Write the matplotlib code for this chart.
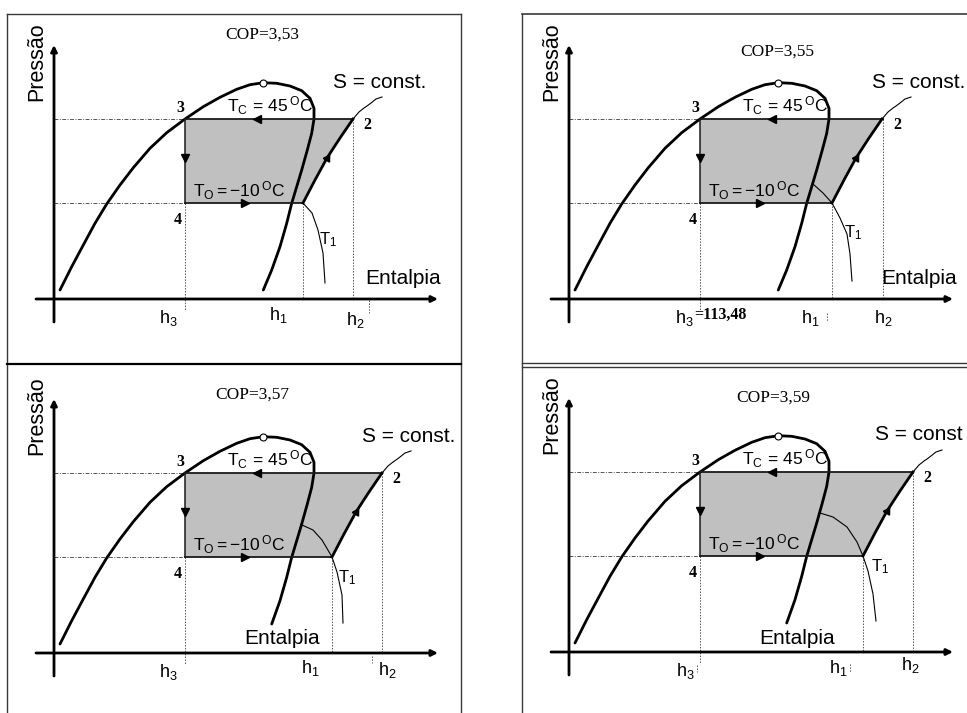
import numpy as np
import matplotlib
matplotlib.use("Agg")
import matplotlib.pyplot as plt

plt.rcParams["font.family"] = ["Liberation Sans", "DejaVu Sans"]
plt.rcParams["mathtext.fontset"] = "custom"
plt.rcParams["mathtext.rm"] = "Liberation Sans"
plt.rcParams["mathtext.it"] = "Liberation Sans:italic"

# ---------------------------------------------------------------------
# Diagram data (enthalpy h, pressure p in diagram units; origin = axis crossing)
# ---------------------------------------------------------------------
LIQ_H = [6, 17.7, 29.3, 41, 52.7, 66, 79.3, 96, 112.7, 131, 149.3, 166, 182.7, 196, 209.3]
LIQ_P = [9, 32.3, 54, 75.7, 95, 114, 131.3, 150.7, 166.3, 180, 192.3, 201.7, 209.7, 214.3, 216.3]
VAP_H = [209.3, 222.7, 236, 247.7, 256, 260, 260, 257.7, 253.3, 247.7, 242.7, 237.7,
         232.7, 226, 217.7, 209.3]
VAP_P = [216.3, 215.7, 213, 208.3, 200.7, 190.7, 180, 165.7, 149, 129, 112.3, 95.7,
         75.7, 52.3, 29, 9]
CRIT = (209.3, 216.3)

P_COND = 180       # Tc = 45 C
P_EVAP = 96        # To = -10 C
H3 = 131           # h3 = h4
H1 = [249, 263, 278, 294]
H2 = [299, 314, 328, 344]
COP = ["3,53", "3,55", "3,57", "3,59"]
VAP_PMIN = [9, 9, 29, 29]

# isentrope 1 -> 2 (relative to state 1) and its thin continuation
ISEN_DH = [0, 12, 24, 37, 50]
ISEN_DP = [0, 23, 45, 65, 84]
ISEN_EXT_DH = [50, 56, 61, 64, 68, 73, 79]
ISEN_EXT_DP = [84, 91, 95, 97, 100, 104, 106]

# T1 isotherm per panel
T1_H = [[249, 258, 264, 269, 271],
        [244, 254, 263, 271, 278, 281, 283],
        [248, 259, 268, 278, 283, 288, 289],
        [251, 264, 278, 288, 294, 299, 304, 307]]
T1_P = [[96, 86, 69, 46, 16],
        [115, 106, 96, 81, 65, 45, 18],
        [128, 123, 113, 96, 81, 58, 30],
        [139, 135, 125, 110, 96, 81, 58, 31]]

# ---------------------------------------------------------------------
# Layout (pixels)
# ---------------------------------------------------------------------
W, H = 967, 713
PANEL_RECT = [(0, 0, 490, 360), (490, 0, 967, 360), (0, 360, 490, 713), (490, 360, 967, 713)]
ORIGIN = [(54, 299), (569, 299), (54, 653), (569, 652)]
COP_XY = [(208, 264), (208, 247), (198, 258), (204, 254)]
ENT_XY = [(349, 20), (350, 20), (228, 15), (228, 14)]
SCONST_X = [279, 303, 308, 306]
SCONST_TXT = ["S = const.", "S = const.", "S = const.", "S = const"]
T1_LBL = [(274, 59), (284, 66), (293, 75), (311, 85)]
H3_LBL_X = [114, 106, 114, 116]
H1_LBL = [(224, -16), (241, -19), (256, -15), (269, -16)]
H2_LBL = [(301, -21), (314, -19), (333, -17), (341, -13)]
MARKS = [[(315, -1, -14)], [(258, -14, -22)], [(318, -3, -10)], [(281, -12, -20), (128, -13, -20)]]

fig = plt.figure(figsize=(W / 100, H / 100), dpi=100)

# frame lines
bg = fig.add_axes([0, 0, 1, 1])
bg.set_xlim(0, W); bg.set_ylim(H, 0); bg.axis("off")
fc = "#3a3a3a"
bg.plot([7, 7], [14, H], color=fc, lw=1.0)
bg.plot([461, 461], [14, H], color=fc, lw=1.0)
bg.plot([7, 461], [14, 14], color=fc, lw=1.0)
bg.plot([7, 461], [364, 364], color="k", lw=1.6)
bg.plot([522, 522], [14, H], color=fc, lw=1.0)
bg.plot([522, W], [14, 14], color=fc, lw=1.2)
bg.plot([522, W], [363, 363], color=fc, lw=1.0)
bg.plot([522, W], [367, 367], color=fc, lw=1.0)

LW_DOME = 2.0
CYC = "#1a1a1a"
GUIDE = "#555555"


def draw_panel(i):
    x0, y0, x1, y1 = PANEL_RECT[i]
    ox, oy = ORIGIN[i]
    ax = fig.add_axes([x0 / W, 1 - y1 / H, (x1 - x0) / W, (y1 - y0) / H])
    ax.set_xlim(x0 - ox, x1 - ox); ax.set_ylim(oy - y1, oy - y0)
    ax.axis("off")

    h1, h2 = H1[i], H2[i]
    ish = np.array(ISEN_DH) + h1
    isp = np.array(ISEN_DP) + P_EVAP

    # cycle area
    poly_h = [H3, h2] + list(ish[::-1]) + [H3]
    poly_p = [P_COND, P_COND] + list(isp[::-1]) + [P_EVAP]
    ax.fill(poly_h, poly_p, color="#c0c0c0", lw=0, zorder=1)

    # guide lines
    dd = (0, (4, 1.5, 1, 1.5))
    ax.plot([0, H3], [P_COND, P_COND], color=GUIDE, lw=0.7, ls=dd, zorder=2)
    ax.plot([0, H3], [P_EVAP, P_EVAP], color=GUIDE, lw=0.7, ls=dd, zorder=2)
    dot = (0, (1.5, 1.5))
    ax.plot([H3, H3], [P_EVAP, -12], color=GUIDE, lw=0.7, ls=dot, zorder=2)
    ax.plot([h1, h1], [P_EVAP, 0], color=GUIDE, lw=0.7, ls=dot, zorder=2)
    ax.plot([h2, h2], [P_COND, 0], color=GUIDE, lw=0.7, ls=dot, zorder=2)
    for mx, ya, yb in MARKS[i]:
        ax.plot([mx, mx], [ya, yb], color=GUIDE, lw=0.7, ls=dot, zorder=2)

    # axes
    ax.annotate("", xy=(384, 0), xytext=(-18, 0),
                arrowprops=dict(arrowstyle="-|>", lw=2.0, color="k", mutation_scale=9,
                                shrinkA=0, shrinkB=0))
    ax.annotate("", xy=(0, 254), xytext=(0, -23),
                arrowprops=dict(arrowstyle="-|>", lw=2.0, color="k", mutation_scale=9,
                                shrinkA=0, shrinkB=0))

    # saturation dome
    ax.plot(LIQ_H, LIQ_P, color="k", lw=LW_DOME, zorder=4, solid_capstyle="round")
    vh = [h for h, p in zip(VAP_H, VAP_P) if p >= VAP_PMIN[i]]
    vp = [p for p in VAP_P if p >= VAP_PMIN[i]]
    ax.plot(vh, vp, color="k", lw=LW_DOME, zorder=4, solid_capstyle="round")
    ax.plot(*CRIT, marker="o", ms=5, mfc="white", mec="k", mew=0.8, zorder=6)

    # cycle lines
    ax.plot([H3, h2], [P_COND, P_COND], color=CYC, lw=1.3, zorder=5)
    ax.plot([H3, h1], [P_EVAP, P_EVAP], color=CYC, lw=1.3, zorder=5)
    ax.plot([H3, H3], [P_COND, P_EVAP], color=CYC, lw=1.1, zorder=5)
    ax.plot(ish, isp, color="k", lw=2.0, zorder=5)
    ax.plot(np.array(ISEN_EXT_DH) + h1, np.array(ISEN_EXT_DP) + P_EVAP,
            color="k", lw=0.8, zorder=5)
    ax.plot(T1_H[i], T1_P[i], color="k", lw=0.8, zorder=5)

    # flow arrows
    ax.plot(203, P_COND, marker="<", ms=6, color="k", zorder=6)
    ax.plot(H3, 141, marker="v", ms=6, color="k", zorder=6)
    ax.plot(191, P_EVAP, marker=">", ms=6, color="k", zorder=6)
    ax.plot(h1 + 24, P_EVAP + 45, marker=(3, 0, -31), ms=6, color="k", zorder=6)

    # texts
    ax.text(-17, 237, "Pressão", rotation=90, ha="center", va="center", fontsize=15.5)
    ax.text(*COP_XY[i], f"COP={COP[i]}", ha="center", va="center",
            fontsize=12.5, family="Liberation Serif")
    ax.text(*ENT_XY[i], "Entalpia", ha="center", va="center", fontsize=15)
    ax.text(SCONST_X[i], 217, SCONST_TXT[i], ha="left", va="center", fontsize=15)
    ax.text(173, 187, r"$\mathrm{T_C{\,=\,}45\,^{O}C}$", ha="left", va="baseline",
            fontsize=12.5)
    ax.text(139, 102, r"$\mathrm{T_O{=}{-}10\,^{O}C}$", ha="left", va="baseline",
            fontsize=12.5)
    ax.text(*T1_LBL[i], r"$\mathrm{T_1}$", ha="center", va="center", fontsize=12)
    sf = dict(family="Liberation Serif", fontweight="bold", fontsize=11.5)
    ax.text(126, 191, "3", ha="center", va="center", **sf)
    ax.text(h2 + 14, 174, "2", ha="center", va="center", **sf)
    ax.text(124, 79, "4", ha="center", va="center", **sf)

    if i == 1:
        ax.text(H3_LBL_X[i], -19, r"$\mathrm{h_3}$", ha="left", va="center", fontsize=13)
        ax.text(H3_LBL_X[i] + 19, -16, "=113,48", ha="left", va="center", **sf)
    else:
        ax.text(H3_LBL_X[i], -19, r"$\mathrm{h_3}$", ha="center", va="center", fontsize=13)
    ax.text(*H1_LBL[i], r"$\mathrm{h_1}$", ha="center", va="center", fontsize=13)
    ax.text(*H2_LBL[i], r"$\mathrm{h_2}$", ha="center", va="center", fontsize=13)


for k in range(4):
    draw_panel(k)

fig.savefig("out.png", dpi=100)
